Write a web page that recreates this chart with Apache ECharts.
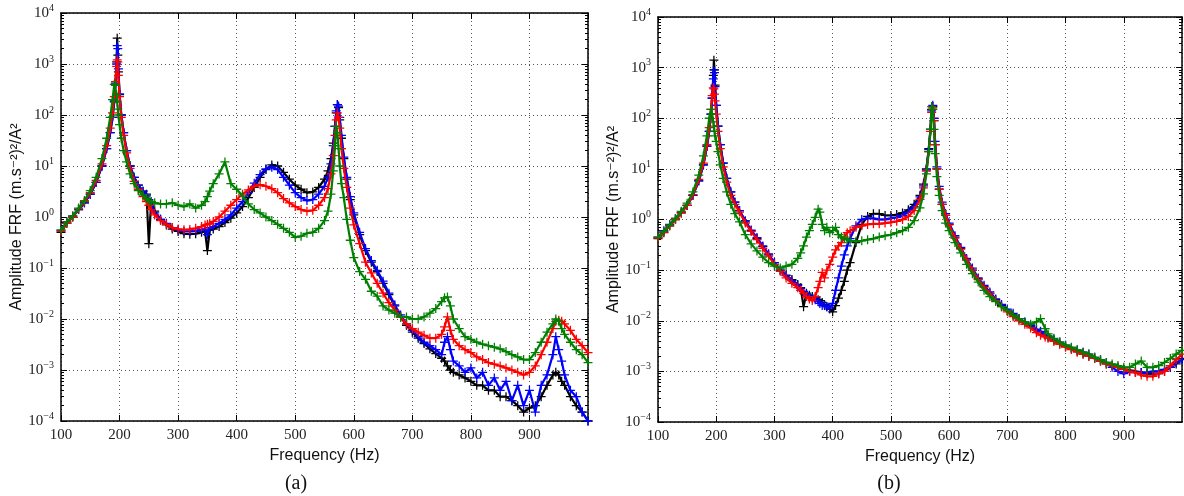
<!DOCTYPE html>
<html><head><meta charset="utf-8">
<script src="https://cdn.jsdelivr.net/npm/echarts@6/dist/echarts.min.js"></script>
<style>html,body{margin:0;padding:0;background:#fff}#c{width:1184px;height:496px}</style>
</head><body><div id="c"></div><script>
// ---------- DATA ----------
const FREQ_A = [100,110,120,130,140,150,160,170,
  178,184,188,191,193,195,196,197,198,
  200,203,207,212,218,225,232,240,
  246,
  250,254,
  260,270,280,290,300,310,320,330,340,
  346,350,354,
  360,370,380,390,400,410,420,430,440,450,460,470,480,490,500,510,520,530,540,550,
  556,561,565,568,570,572,574,576,579,583,588,594,
  600,610,620,630,640,650,660,670,680,690,700,710,720,730,740,750,
  755,760,765,
  770,780,790,800,810,820,830,840,850,860,870,880,890,900,910,920,930,940,
  945,950,955,
  960,970,980,990,1000];
const BLACK_A = [0.5,0.75,1.0,1.4,1.9,2.8,4.8,10,
  22,45,90,180,400,1100,3200,1500,700,
  250,100,45,20,10,6,4.2,3.2,
  2.8,
  0.3,2.0,
  1.3,0.9,0.7,0.58,0.52,0.47,0.46,0.47,0.5,
  0.52,0.22,0.55,
  0.58,0.65,0.78,0.95,1.2,1.6,2.4,3.8,6,8.5,10.5,10,7.5,5.5,4.2,3.5,3.0,3.1,3.8,5.5,
  8,14,28,60,110,160,140,80,35,14,5.5,2.2,
  1.1,0.45,0.22,0.13,0.085,0.05,0.03,0.018,0.011,0.0075,0.0055,0.0042,0.0033,0.0026,0.0021,0.0017,
  0.0015,0.0012,0.001,
  0.0009,0.0008,0.0007,0.0006,0.0005,0.0005,0.0004,0.0004,0.0003,0.0003,0.00025,0.0002,0.00015,0.00018,0.0002,0.0003,0.0005,0.0008,
  0.0009,0.0008,0.0006,
  0.0005,0.0003,0.0002,0.00015,0.0001];
const BLUE_A = [0.55,0.8,1.05,1.4,1.9,2.8,4.8,10,
  22,45,90,190,420,1000,2300,2000,800,
  260,100,45,20,10,6,4.2,3.2,
  2.6,
  2.2,1.8,
  1.2,0.9,0.75,0.62,0.56,0.52,0.52,0.53,0.56,
  0.58,0.45,0.62,
  0.65,0.75,0.9,1.1,1.5,2.0,3.0,4.6,6.8,8.8,9.5,8.5,6,4.2,3.0,2.4,2.1,2.2,2.8,4,
  6,11,25,60,120,160,150,90,40,15,6,2.5,
  1.2,0.5,0.24,0.14,0.09,0.055,0.032,0.019,0.012,0.008,0.006,0.0045,0.0035,0.003,0.0025,0.002,
  0.0035,0.0045,0.0025,
  0.0015,0.0012,0.0009,0.0011,0.0007,0.0009,0.0005,0.0007,0.0004,0.0006,0.00025,0.0005,0.0002,0.0004,0.00015,0.0005,0.0008,0.002,
  0.0045,0.0025,0.0015,
  0.0008,0.0004,0.0003,0.00015,0.0001];
const RED_A = [0.52,0.75,1.0,1.45,2.0,3.0,5.2,11,
  25,55,110,230,450,900,1200,1100,600,
  230,90,40,18,9,5,3.5,2.5,
  2.0,
  1.7,1.4,
  1.1,0.85,0.72,0.62,0.58,0.56,0.57,0.6,0.65,
  0.7,0.72,0.75,
  0.82,1.0,1.3,1.7,2.2,2.8,3.4,4.0,4.3,4.0,3.6,3.0,2.3,1.9,1.6,1.4,1.3,1.35,1.7,2.4,
  3.6,7,16,40,80,110,90,55,22,9,3.8,1.5,
  0.7,0.3,0.13,0.08,0.05,0.032,0.021,0.015,0.011,0.008,0.0065,0.0055,0.0048,0.0042,0.0042,0.005,
  0.007,0.011,0.006,
  0.004,0.003,0.0025,0.0022,0.0018,0.0016,0.0014,0.0013,0.0012,0.0011,0.001,0.0009,0.0008,0.0009,0.0012,0.002,0.0035,0.0065,
  0.009,0.0095,0.009,
  0.008,0.006,0.004,0.003,0.0022];
const GREEN_A = [0.55,0.8,1.05,1.5,2.1,3.3,6.0,14,
  35,90,200,400,380,250,180,130,100,
  65,35,20,12,7,4.5,3.3,2.7,
  2.3,
  2.1,2.0,
  1.9,1.8,1.8,1.9,1.7,1.6,1.8,1.5,1.7,
  2.0,2.5,3.2,
  4.5,7,12,4.5,3.5,2.6,1.8,1.4,1.2,1.0,0.85,0.72,0.6,0.5,0.4,0.42,0.48,0.5,0.6,0.85,
  1.3,2.8,8,25,60,45,22,10,4.5,2.4,0.9,0.35,
  0.16,0.085,0.06,0.035,0.028,0.018,0.015,0.013,0.011,0.011,0.01,0.01,0.011,0.013,0.016,0.022,
  0.026,0.027,0.018,
  0.01,0.0065,0.0045,0.004,0.0035,0.0032,0.003,0.0028,0.0026,0.0023,0.002,0.0018,0.0016,0.0016,0.0022,0.0035,0.0055,0.008,
  0.01,0.009,0.0065,
  0.005,0.0035,0.0025,0.002,0.0014];

const FREQ_B = [100,110,120,130,140,150,160,170,
  178,184,188,191,193,195,196,197,198,
  200,203,207,212,218,225,232,240,
  250,260,270,280,290,300,310,320,330,340,
  345,350,355,360,365,370,375,378,382,386,390,395,400,405,410,415,420,425,430,
  440,450,460,470,480,490,500,510,520,530,540,550,
  556,561,565,568,570,572,574,576,579,583,588,594,
  600,610,620,630,640,650,660,670,680,690,700,710,720,730,740,
  750,757,765,
  770,780,790,800,810,820,830,840,850,860,870,880,890,900,910,920,930,940,950,960,970,980,990,1000];
const BLACK_B = [0.42,0.55,0.75,1.0,1.35,1.9,3.0,5.8,
  12,28,55,120,250,700,1400,900,450,
  180,70,30,13,6.5,3.5,2.2,1.5,
  0.9,0.6,0.42,0.29,0.2,0.14,0.1,0.08,0.065,0.052,
  0.045,0.019,0.035,0.032,0.03,0.028,0.026,0.025,0.023,0.021,0.019,0.017,0.015,0.02,0.028,0.04,0.06,0.1,0.14,
  0.35,0.8,1.15,1.3,1.3,1.2,1.2,1.25,1.35,1.55,2.0,3.0,
  5,10,25,60,150,170,90,30,10,4,2.0,1.2,
  0.8,0.45,0.27,0.16,0.1,0.067,0.047,0.035,0.026,0.02,0.016,0.013,0.011,0.0092,0.0078,
  0.0066,0.006,0.0052,
  0.0048,0.0041,0.0036,0.0031,0.0028,0.0025,0.0022,0.002,0.0018,0.0016,0.0014,0.0013,0.0012,0.0011,0.00105,0.001,0.00095,0.0009,0.0009,0.0009,0.001,0.0012,0.0014,0.0018];
const BLUE_B = [0.45,0.6,0.8,1.05,1.4,1.9,3.0,5.8,
  12,28,55,120,250,600,900,800,420,
  180,70,30,13,6.5,3.5,2.2,1.5,
  0.95,0.62,0.44,0.3,0.21,0.14,0.1,0.078,0.062,0.05,
  0.043,0.038,0.033,0.03,0.028,0.026,0.024,0.022,0.02,0.02,0.019,0.018,0.022,0.04,0.07,0.12,0.2,0.3,0.42,
  0.75,1.0,1.05,1.05,1.0,1.0,1.05,1.1,1.2,1.4,1.8,2.8,
  4.6,9.5,24,60,140,180,100,35,11,4.5,2.2,1.3,
  0.85,0.48,0.28,0.17,0.11,0.07,0.05,0.037,0.027,0.021,0.017,0.014,0.011,0.0095,0.008,
  0.0068,0.0062,0.0054,
  0.005,0.0043,0.0038,0.0033,0.0029,0.0026,0.0024,0.0022,0.0019,0.0017,0.0015,0.0012,0.001,0.0009,0.001,0.00095,0.00095,0.00095,0.001,0.001,0.0011,0.0012,0.0015,0.0017];
const RED_B = [0.43,0.56,0.75,1.0,1.35,1.9,3.1,6.2,
  13,30,65,150,280,400,380,300,220,
  120,55,25,11,5.5,3.0,2.0,1.4,
  0.85,0.58,0.4,0.27,0.19,0.13,0.095,0.07,0.055,0.045,
  0.04,0.035,0.03,0.027,0.025,0.03,0.045,0.06,0.09,0.07,0.1,0.13,0.18,0.25,0.3,0.35,0.45,0.55,0.6,
  0.7,0.75,0.8,0.82,0.82,0.85,0.88,0.92,1.0,1.15,1.5,2.5,
  4.2,9,22,55,130,160,90,30,10,4,2.0,1.2,
  0.78,0.43,0.26,0.16,0.1,0.065,0.046,0.034,0.025,0.019,0.015,0.012,0.01,0.0085,0.0072,
  0.0058,0.0052,0.0048,
  0.0045,0.0039,0.0034,0.003,0.0027,0.0024,0.0022,0.002,0.0018,0.0016,0.0014,0.0013,0.0012,0.0011,0.001,0.00095,0.00085,0.0008,0.0008,0.0009,0.001,0.0013,0.0017,0.0022];
const GREEN_B = [0.45,0.58,0.78,1.05,1.45,2.1,3.5,7.5,
  18,45,100,150,120,85,70,55,45,
  35,22,12,6.5,3.5,2.0,1.3,0.9,
  0.5,0.33,0.24,0.18,0.14,0.12,0.11,0.12,0.13,0.17,
  0.22,0.3,0.45,0.6,0.8,1.1,1.6,1.4,0.8,0.6,0.7,0.55,0.6,0.7,0.5,0.45,0.42,0.4,0.38,
  0.37,0.38,0.4,0.42,0.45,0.48,0.5,0.55,0.6,0.7,0.95,1.7,
  3.2,8,22,60,170,150,60,20,7,3,1.5,0.85,
  0.6,0.35,0.22,0.13,0.085,0.058,0.04,0.03,0.024,0.019,0.016,0.013,0.011,0.0095,0.0085,
  0.0095,0.011,0.007,
  0.0055,0.0045,0.0038,0.0033,0.003,0.0027,0.0024,0.0022,0.0019,0.0017,0.0015,0.0014,0.0013,0.0012,0.0012,0.0014,0.0016,0.0012,0.0012,0.0013,0.0015,0.0018,0.0022,0.0026];

const X_TICK_STEP = 100;
const X_RANGE = [100, 1000];
const Y_EXPONENT_RANGE = [-4, 4];
const X_NAME = 'Frequency (Hz)';
const Y_NAME = 'Amplitude FRF (m.s\u207B\u00B2)\u00B2/A\u00B2';
const CAPTIONS = ['(a)', '(b)'];
const SERIES_COLORS = ['#000000', '#0000ff', '#ff0000', '#008000'];

// ---------- CHART ----------
const PANELS = [
  {freq: FREQ_A, ys: [BLACK_A, BLUE_A, RED_A, GREEN_A], grid: {left: 61, top: 13, width: 527, height: 408}, cap: 296},
  {freq: FREQ_B, ys: [BLACK_B, BLUE_B, RED_B, GREEN_B], grid: {left: 658, top: 17, width: 524, height: 405}, cap: 889}
];
const MINOR = [];
for (let e = Y_EXPONENT_RANGE[0]; e < Y_EXPONENT_RANGE[1]; e++) {
  for (let k = 2; k <= 9; k++) MINOR.push(e + Math.log10(k));
}
const PLUS = 'path://M0,4.3h10v1.4h-10zM4.3,0h1.4v10h-1.4z';
const SERIF = '"Liberation Serif", "DejaVu Serif", serif';
const SANS = '"Liberation Sans", Arial, "DejaVu Sans", sans-serif';
const frame = {show: true, onZero: false, lineStyle: {color: '#000', width: 1.5}};
const grid = [], xAxis = [], yAxis = [], series = [], graphic = [];

PANELS.forEach((p, i) => {
  grid.push(Object.assign({outerBoundsMode: 'none', containLabel: false}, p.grid));
  xAxis.push({
    gridIndex: i, type: 'value', min: X_RANGE[0], max: X_RANGE[1], interval: X_TICK_STEP, position: 'bottom',
    axisLine: frame, axisTick: {inside: true, length: 6, lineStyle: {color: '#000'}},
    axisLabel: {margin: 7, showMaxLabel: false, fontFamily: SERIF, fontSize: 15, color: '#222'},
    splitLine: {show: true, lineStyle: {type: [1, 3], color: '#555', width: 1}},
    name: X_NAME, nameLocation: 'middle', nameGap: 24,
    nameTextStyle: {fontFamily: SANS, fontSize: 16, color: '#111'}
  });
  xAxis.push({
    gridIndex: i, type: 'value', min: X_RANGE[0], max: X_RANGE[1], interval: X_TICK_STEP, position: 'top',
    axisLine: frame, axisTick: {inside: true, length: 6, lineStyle: {color: '#000'}},
    axisLabel: {show: false}, splitLine: {show: false}
  });
  const logCommon = {
    gridIndex: i, type: 'log', logBase: 10,
    min: Math.pow(10, Y_EXPONENT_RANGE[0]), max: Math.pow(10, Y_EXPONENT_RANGE[1]), splitNumber: 8
  };
  yAxis.push(Object.assign({}, logCommon, {
    position: 'left', axisLine: frame, axisTick: {inside: true, length: 6, lineStyle: {color: '#000'}},
    axisLabel: {
      margin: 7,
      formatter: v => {
        const e = Math.round(Math.log10(v));
        return '{b|10}{s|' + (e < 0 ? '\u2212' + (-e) : e) + '}';
      },
      rich: {
        b: {fontFamily: SERIF, fontSize: 15, color: '#222'},
        s: {fontFamily: SERIF, fontSize: 10, color: '#222', padding: [0, 0, 10, 0]}
      }
    },
    splitLine: {show: true, lineStyle: {type: [1, 3], color: '#555', width: 1}},
    name: Y_NAME, nameLocation: 'middle', nameGap: 36,
    nameTextStyle: {fontFamily: SANS, fontSize: 16, color: '#111'}
  }));
  yAxis.push(Object.assign({}, logCommon, {
    position: 'right', axisLine: frame, axisTick: {inside: true, length: 6, lineStyle: {color: '#000'}},
    axisLabel: {show: false}, splitLine: {show: false}
  }));
  ['left', 'right'].forEach(pos => yAxis.push({
    gridIndex: i, type: 'value', min: Y_EXPONENT_RANGE[0], max: Y_EXPONENT_RANGE[1], position: pos,
    axisLine: {show: false}, axisLabel: {show: false}, splitLine: {show: false},
    axisTick: {inside: true, length: 3, customValues: MINOR, lineStyle: {color: '#000'}}
  }));
  p.ys.forEach((arr, k) => {
    series.push({
      type: 'line', xAxisIndex: 2 * i, yAxisIndex: 4 * i,
      data: p.freq.map((f, j) => [f, arr[j]]),
      symbol: PLUS, symbolSize: 9, showSymbol: true, showAllSymbol: true,
      lineStyle: {color: SERIES_COLORS[k], width: 2.2},
      itemStyle: {color: SERIES_COLORS[k]},
      clip: true, silent: true, z: 2 + k
    });
  });
  graphic.push({
    type: 'text', x: p.cap, y: 484,
    style: {text: CAPTIONS[i], font: '20px ' + SERIF, fill: '#111', align: 'center', verticalAlign: 'middle'}
  });
});

const chart = echarts.init(document.getElementById('c'), null, {renderer: 'canvas'});
chart.setOption({animation: false, backgroundColor: '#fff', grid, xAxis, yAxis, series, graphic});
</script></body></html>
